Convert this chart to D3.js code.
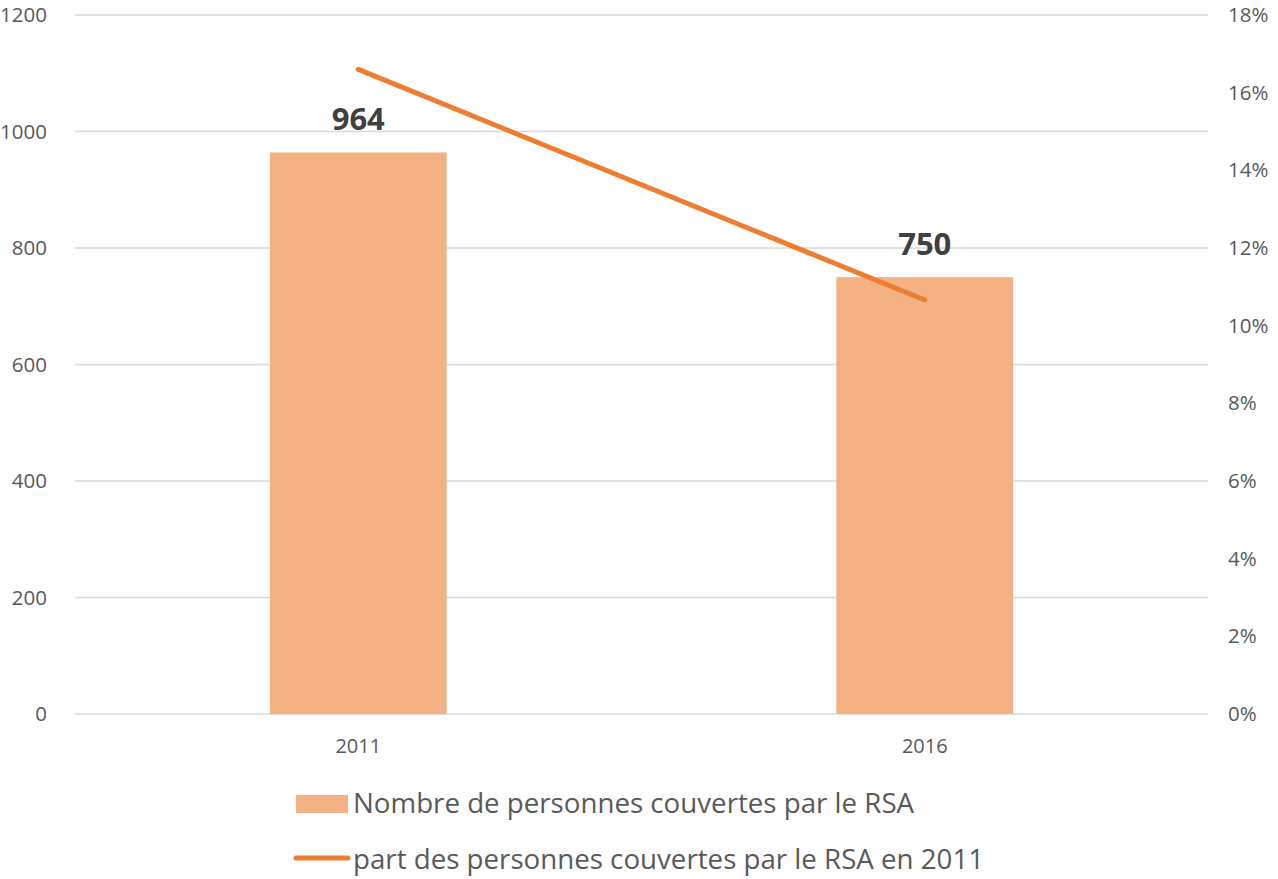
<!DOCTYPE html>
<html lang="fr">
<head>
  <meta charset="UTF-8">
  <title>RSA</title>
  <script src="https://d3js.org/d3.v7.min.js"></script>
  <style>
    body { margin: 0; background: #fff; font-family: "Open Sans", "Noto Sans", sans-serif; }
    svg { display: block; }
  </style>
</head>
<body>
  <script>
    const width = 1278;
    const height = 879;

    // data
    const years = ['2011', '2016'];
    const personnes = [964, 750];
    const part = [0.166, 0.1066];
    const leftTicks = [0, 200, 400, 600, 800, 1000, 1200];
    const rightTicks = [0, 0.02, 0.04, 0.06, 0.08, 0.10, 0.12, 0.14, 0.16, 0.18];
    const legendLabels = ['Nombre de personnes couvertes par le RSA', 'part des personnes couvertes par le RSA en 2011'];

    const margin = { top: 15, right: 70, bottom: 165, left: 75 };

    const svg = d3.select("body").append("svg")
      .attr("width", width)
      .attr("height", height);

    const x = d3.scaleBand().domain(years).range([margin.left, width - margin.right]).padding(0);
    const yL = d3.scaleLinear().domain([0, 1200]).range([height - margin.bottom, margin.top]);
    const yR = d3.scaleLinear().domain([0, 0.18]).range([height - margin.bottom, margin.top]);
    const barW = x.bandwidth() * 0.312;

    // gridlines
    svg.append("g").selectAll("line")
      .data(leftTicks)
      .enter().append("line")
      .attr("x1", margin.left).attr("x2", width - margin.right)
      .attr("y1", d => yL(d)).attr("y2", d => yL(d))
      .attr("stroke", "#d9d9d9").attr("stroke-width", 1.5);

    // left axis
    const axL = svg.append("g")
      .attr("transform", `translate(${margin.left - 28},0)`)
      .call(d3.axisLeft(yL).tickValues(leftTicks).tickSize(0).tickPadding(0).tickFormat(d3.format("d")));
    axL.select(".domain").remove();

    // right axis
    const axR = svg.append("g")
      .attr("transform", `translate(${width - margin.right + 20},0)`)
      .call(d3.axisRight(yR).tickValues(rightTicks).tickSize(0).tickPadding(0).tickFormat(d3.format(".0%")));
    axR.select(".domain").remove();

    svg.selectAll(".tick text")
      .attr("font-family", "'Open Sans', sans-serif")
      .attr("font-size", 20.5)
      .attr("fill", "#595959");

    // bars
    svg.append("g").selectAll("rect")
      .data(personnes)
      .enter().append("rect")
      .attr("x", (d, i) => x(years[i]) + x.bandwidth() / 2 - barW / 2)
      .attr("width", barW)
      .attr("y", d => yL(d))
      .attr("height", d => yL(0) - yL(d))
      .attr("fill", "#f4b183");

    // value labels
    svg.append("g").selectAll("text")
      .data(personnes)
      .enter().append("text")
      .attr("x", (d, i) => x(years[i]) + x.bandwidth() / 2)
      .attr("y", d => yL(d) - 22)
      .attr("text-anchor", "middle")
      .attr("font-size", 31)
      .attr("font-weight", "bold")
      .attr("fill", "#404040")
      .text(d => d);

    // x labels
    svg.append("g").selectAll("text")
      .data(years)
      .enter().append("text")
      .attr("x", d => x(d) + x.bandwidth() / 2)
      .attr("y", yL(0) + 39)
      .attr("text-anchor", "middle")
      .attr("font-size", 20)
      .attr("fill", "#595959")
      .text(d => d);

    // line
    const line = d3.line()
      .x((d, i) => x(years[i]) + x.bandwidth() / 2)
      .y(d => yR(d));
    svg.append("path")
      .datum(part)
      .attr("d", line)
      .attr("fill", "none")
      .attr("stroke", "#ed7d31")
      .attr("stroke-width", 5)
      .attr("stroke-linecap", "round");

    // legend
    const lg = svg.append("g");
    lg.append("rect")
      .attr("x", 296).attr("y", 795).attr("width", 52).attr("height", 18)
      .attr("fill", "#f4b183");
    lg.append("line")
      .attr("x1", 296).attr("x2", 348).attr("y1", 858).attr("y2", 858)
      .attr("stroke", "#ed7d31").attr("stroke-width", 5).attr("stroke-linecap", "round");
    lg.selectAll("text")
      .data(legendLabels)
      .enter().append("text")
      .attr("x", 353)
      .attr("y", (d, i) => 813 + i * 56)
      .attr("font-size", 27.7)
      .attr("fill", "#595959")
      .text(d => d);
  </script>
</body>
</html>
